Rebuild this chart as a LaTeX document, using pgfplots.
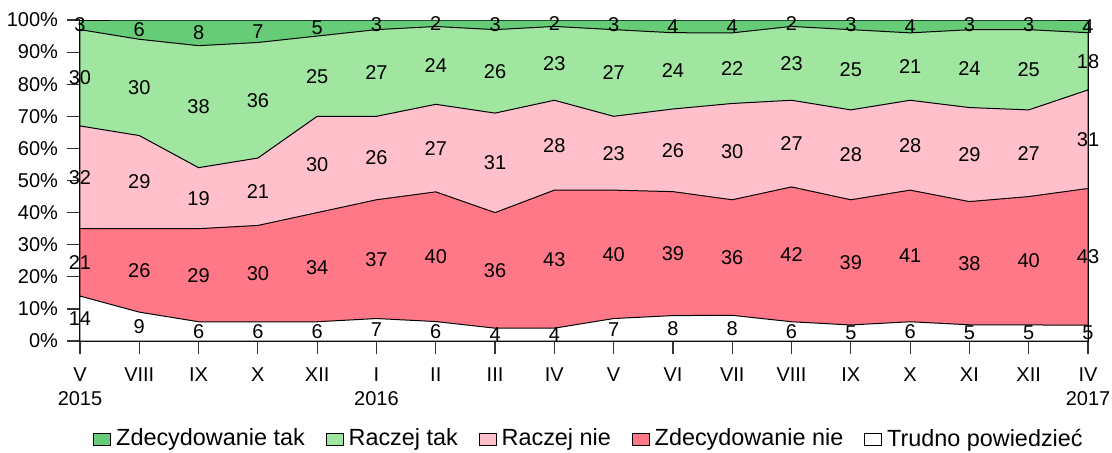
\documentclass[border=0pt]{standalone}
\usepackage{pgfplots}
\pgfplotsset{compat=1.18}
\usepackage{pgfplotstable}
\usepackage{fontspec}
\setmainfont{Liberation Sans}

\definecolor{czt}{RGB}{102,204,119}
\definecolor{crt}{RGB}{160,230,160}
\definecolor{crn}{RGB}{255,192,203}
\definecolor{czn}{RGB}{255,120,135}

\pgfplotstableread{
m tp zn rn rt zt
0 14 21 32 30 3
1 9 26 29 30 6
2 6 29 19 38 8
3 6 30 21 36 7
4 6 34 30 25 5
5 7 37 26 27 3
6 6 40 27 24 2
7 4 36 31 26 3
8 4 43 28 23 2
9 7 40 23 27 3
10 8 39 26 24 4
11 8 36 30 22 4
12 6 42 27 23 2
13 5 39 28 25 3
14 6 41 28 21 4
15 5 38 29 24 3
16 5 40 27 25 3
17 5 43 31 18 4
}\data

\newcommand{\rowsum}{(\thisrow{tp}+\thisrow{zn}+\thisrow{rn}+\thisrow{rt}+\thisrow{zt})}
\newcommand{\fs}{\fontsize{10}{12}\selectfont}
\newcommand{\lfs}{\fontsize{11.7}{14}\selectfont}

\begin{document}
\begin{tikzpicture}
\begin{axis}[
  at={(0,0)}, anchor=south west,
  scale only axis, width=504pt, height=160.5pt,
  xmin=0, xmax=17, ymin=0, ymax=100,
  clip=false,
  axis line style={black, line width=0.5pt},
  xtick pos=lower, ytick pos=left,
  tick align=outside,
  major tick length=6.5pt,
  tick style={black!80, line width=0.6pt},
  xtick={0,...,17},
  xticklabels={{V\\2015},VIII,IX,X,XII,{I\\2016},II,III,IV,V,VI,VII,VIII,IX,X,XI,XII,{IV\\2017}},
  xticklabel style={align=center, font=\fs, anchor=north, yshift=-3.5pt},
  ytick={0,10,...,100},
  yticklabel={\pgfmathprintnumber{\tick}\%},
  yticklabel style={font=\fs, xshift=-1pt},
  /pgf/number format/assume math mode=true,
  legend columns=5,
  legend style={draw=none, fill=none, at={(0.506,-0.305)}, anchor=center,
    font=\lfs, /tikz/every even column/.append style={column sep=8.5pt},
    /tikz/every odd column/.append style={column sep=0.5pt}},
  legend image code/.code={\draw[#1, draw=black, line width=0.4pt] (0pt,-3pt) rectangle (8.5pt,3pt);},
  every node near coord/.append style={font=\fs, text=black},
]
\addplot[fill=czt, draw=black, line width=0.5pt] table[x=m, y expr={100*(\thisrow{tp}+\thisrow{zn}+\thisrow{rn}+\thisrow{rt}+\thisrow{zt})/\rowsum}] \data \closedcycle;
\addlegendentry{Zdecydowanie tak}
\addplot[fill=crt, draw=black, line width=0.5pt] table[x=m, y expr={100*(\thisrow{tp}+\thisrow{zn}+\thisrow{rn}+\thisrow{rt})/\rowsum}] \data \closedcycle;
\addlegendentry{Raczej tak}
\addplot[fill=crn, draw=black, line width=0.5pt] table[x=m, y expr={100*(\thisrow{tp}+\thisrow{zn}+\thisrow{rn})/\rowsum}] \data \closedcycle;
\addlegendentry{Raczej nie}
\addplot[fill=czn, draw=black, line width=0.5pt] table[x=m, y expr={100*(\thisrow{tp}+\thisrow{zn})/\rowsum}] \data \closedcycle;
\addlegendentry{Zdecydowanie nie}
\addplot[fill=white, draw=black, line width=0.5pt] table[x=m, y expr={100*(\thisrow{tp})/\rowsum}] \data \closedcycle;
\addlegendentry{Trudno powiedzieć}

\addplot[forget plot, draw=none, mark=none, nodes near coords, nodes near coords align=center, point meta=explicit] table[x=m, y expr={100*(\thisrow{tp}/2)/\rowsum}, meta=tp] \data;
\addplot[forget plot, draw=none, mark=none, nodes near coords, nodes near coords align=center, point meta=explicit] table[x=m, y expr={100*(\thisrow{tp}+\thisrow{zn}/2)/\rowsum}, meta=zn] \data;
\addplot[forget plot, draw=none, mark=none, nodes near coords, nodes near coords align=center, point meta=explicit] table[x=m, y expr={100*(\thisrow{tp}+\thisrow{zn}+\thisrow{rn}/2)/\rowsum}, meta=rn] \data;
\addplot[forget plot, draw=none, mark=none, nodes near coords, nodes near coords align=center, point meta=explicit] table[x=m, y expr={100*(\thisrow{tp}+\thisrow{zn}+\thisrow{rn}+\thisrow{rt}/2)/\rowsum}, meta=rt] \data;
\addplot[forget plot, draw=none, mark=none, nodes near coords, nodes near coords align=center, point meta=explicit] table[x=m, y expr={100*(\thisrow{tp}+\thisrow{zn}+\thisrow{rn}+\thisrow{rt}+\thisrow{zt}/2)/\rowsum}, meta=zt] \data;
\end{axis}
\pgfresetboundingbox
\useasboundingbox (-40pt,-55.5pt) rectangle (516pt,170.5pt);
\end{tikzpicture}
\end{document}
